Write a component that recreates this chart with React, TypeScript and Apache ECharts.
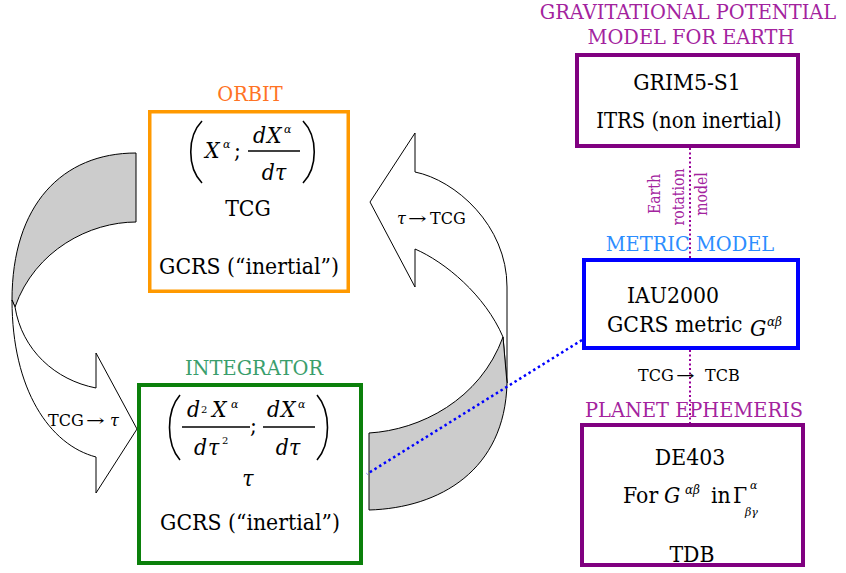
import React, { useEffect, useRef } from "react";
import * as echarts from "echarts";

// ---- text content of the diagram ----
const boxTitles = ["ORBIT", "INTEGRATOR", "GRAVITATIONAL POTENTIAL", "MODEL FOR EARTH", "METRIC MODEL", "PLANET EPHEMERIS"];
const orbitLines = ["TCG", "GCRS (“inertial”)"];
const integratorLines = ["τ", "GCRS (“inertial”)"];
const gravityLines = ["GRIM5-S1", "ITRS (non inertial)"];
const metricLines = ["IAU2000", "GCRS metric"];
const ephemerisLines = ["DE403", "For", "in", "TDB"];
const timeScales = ["TCG", "TCB", "τ"];
const rotationLabel = ["Earth", "rotation", "model"];
const mathSymbols = { alpha: "α", alphaBeta: "αβ", betaGamma: "βγ", Gamma: "Γ", tau: "τ", arrow: "→", two: "2" };

// ---- curved arrow outlines (SVG path data) ----
const LEFT_BACK = "M136 153 L136 222 C90 222 35 250 15 307 L12 300 C12 205 62 153 136 153 Z";
const LEFT_FRONT = "M12 300 C12 390 50 445 96 457 L96 493 L137 429 L96 353 L96 388 C55 380 22 350 15 307 Z";
const RIGHT_FRONT = "M415 172 C455 180 507 225 507 287 L507 383 L503 337 C485 295 445 262 415 249 L415 287 L370 202 L415 133 Z";
const RIGHT_BACK = "M369 433 C420 430 480 400 503 337 L507 383 C505 470 440 508 369 510 Z";

echarts.graphic.registerShape("leftBack", echarts.graphic.extendPath(LEFT_BACK, {}));
echarts.graphic.registerShape("leftFront", echarts.graphic.extendPath(LEFT_FRONT, {}));
echarts.graphic.registerShape("rightFront", echarts.graphic.extendPath(RIGHT_FRONT, {}));
echarts.graphic.registerShape("rightBack", echarts.graphic.extendPath(RIGHT_BACK, {}));

const FAMILY = "DejaVu Serif, DejaVu Sans";
const MAIN = 22; // body text size
const MAIN_SX = 0.93; // horizontal squeeze to mimic Times widths
const TITLE = 20;
const TITLE_SX = 0.97;
const SMALL = 16;

type TOpts = { italic?: boolean; align?: string; color?: string; rotation?: number; sx?: number };

// baseline-based text placement
function t(text: string, x: number, baseline: number, size: number, o: TOpts = {}) {
  return {
    type: "text",
    x,
    y: o.rotation ? baseline : baseline - 0.346 * size,
    rotation: o.rotation || 0,
    scaleX: o.sx || 1,
    silent: true,
    style: {
      text,
      x: 0,
      y: 0,
      fill: o.color || "#000",
      fontSize: size,
      fontFamily: FAMILY,
      fontStyle: o.italic ? "italic" : "normal",
      fontWeight: "normal",
      align: o.align || "left",
      verticalAlign: "middle",
      legacy: false,
    },
  };
}
const m = (text: string, x: number, b: number, o: TOpts = {}) => t(text, x, b, MAIN, { sx: MAIN_SX, ...o });
const sup = (text: string, x: number, b: number, size = 11) => t(text, x, b, size, { italic: true });
const ttl = (text: string, x: number, b: number, color: string) =>
  t(text, x, b, TITLE, { align: "center", color, sx: TITLE_SX });
const arrowGlyph = (x: number, b: number) => t(mathSymbols.arrow, x, b, SMALL, { sx: 1.4 });

function box(x: number, y: number, w: number, h: number, color: string, lw: number) {
  return {
    type: "rect",
    shape: { x, y, width: w, height: h },
    style: { fill: "#ffffff", stroke: color, lineWidth: lw },
  };
}

function line(x1: number, y1: number, x2: number, y2: number, color: string, lw: number, dash?: number[]) {
  return {
    type: "line",
    shape: { x1, y1, x2, y2 },
    style: { stroke: color, lineWidth: lw, lineDash: dash || null, fill: "none" },
  };
}

function paren(x: number, top: number, bottom: number, apex: number) {
  const h = bottom - top;
  return {
    type: "bezierCurve",
    shape: { x1: x, y1: top, x2: x, y2: bottom, cpx1: apex, cpy1: top + h * 0.25, cpx2: apex, cpy2: top + h * 0.75 },
    style: { stroke: "#000", lineWidth: 1.6, fill: "none" },
  };
}

export default function App() {
  const ref = useRef<HTMLDivElement>(null);
  useEffect(() => {
    document.body.style.margin = "0";
    if (!ref.current) return;
    const chart = echarts.init(ref.current, null, { renderer: "svg" });
    const S = mathSymbols;
    const ORANGE = "#FF9900", ORANGE_T = "#FF7324";
    const GREEN = "#0B800B", GREEN_T = "#3A9E6C";
    const PURPLE = "#800080", PURPLE_T = "#A3239E";
    const BLUE = "#0000FF", BLUE_T = "#2B8DFF";
    const els: any[] = [];

    // curved arrows
    els.push({ type: "leftBack", x: 0, y: 0, style: { fill: "#cccccc", stroke: "#000", lineWidth: 1 } });
    els.push({ type: "leftFront", x: 0, y: 0, style: { fill: "#ffffff", stroke: "#000", lineWidth: 1 } });
    els.push({ type: "rightFront", x: 0, y: 0, style: { fill: "#ffffff", stroke: "#000", lineWidth: 1 } });
    els.push({ type: "rightBack", x: 0, y: 0, style: { fill: "#cccccc", stroke: "#000", lineWidth: 1 } });

    // arrow labels
    els.push(t(S.tau, 397, 224, SMALL, { italic: true }));
    els.push(arrowGlyph(408, 224));
    els.push(t(timeScales[0], 430, 224, SMALL));
    els.push(t(timeScales[0], 48, 426, SMALL));
    els.push(arrowGlyph(86, 426));
    els.push(t(S.tau, 110, 426, SMALL, { italic: true }));

    // dotted connectors
    els.push(line(690, 148, 690, 258, "#990099", 2, [2, 2.5]));
    els.push(line(690, 350, 690, 423, "#990099", 2, [2, 2.5]));
    els.push(line(582, 340, 367, 474, BLUE, 2.5, [2.5, 3]));

    // ORBIT
    els.push(box(149.75, 111.75, 198.5, 179.5, ORANGE, 3.5));
    els.push(ttl(boxTitles[0], 250, 101, ORANGE_T));
    els.push(paren(202, 121, 183, 187));
    els.push(paren(303, 121, 183, 318));
    els.push(m("X", 205, 158, { italic: true }));
    els.push(sup(S.alpha, 223, 148));
    els.push(m(";", 234, 158));
    els.push(m("d", 253, 143, { italic: true }));
    els.push(m("X", 267, 143, { italic: true }));
    els.push(sup(S.alpha, 284, 133));
    els.push(line(248, 151, 300, 151, "#000", 1.3));
    els.push(m("d" + S.tau, 274, 180, { italic: true, align: "center" }));
    els.push(m(orbitLines[0], 248, 216, { align: "center" }));
    els.push(m(orbitLines[1], 249, 274, { align: "center" }));

    // INTEGRATOR
    els.push(box(139, 385, 222, 178, GREEN, 4));
    els.push(ttl(boxTitles[1], 254, 375, GREEN_T));
    els.push(paren(180, 395, 460, 166));
    els.push(paren(317, 395, 460, 331));
    els.push(m("d", 187, 417, { italic: true }));
    els.push(t(S.two, 201, 413, 10));
    els.push(m("X", 212, 417, { italic: true }));
    els.push(sup(S.alpha, 231, 408));
    els.push(line(182, 427, 250, 427, "#000", 1.3));
    els.push(m("d", 194, 455, { italic: true }));
    els.push(m(S.tau, 208, 455, { italic: true }));
    els.push(t(S.two, 222, 444, 10));
    els.push(m(";", 250, 433));
    els.push(m("d", 267, 417, { italic: true }));
    els.push(m("X", 281, 417, { italic: true }));
    els.push(sup(S.alpha, 298, 408));
    els.push(line(263, 427, 315, 427, "#000", 1.3));
    els.push(m("d" + S.tau, 288, 455, { italic: true, align: "center" }));
    els.push(m(integratorLines[0], 248, 486, { italic: true, align: "center" }));
    els.push(m(integratorLines[1], 250, 530, { align: "center" }));

    // GRAVITATIONAL POTENTIAL
    els.push(box(577, 55, 221, 91, PURPLE, 4));
    els.push(ttl(boxTitles[2], 688, 19, PURPLE_T));
    els.push(ttl(boxTitles[3], 691, 44, PURPLE_T));
    els.push(m(gravityLines[0], 687, 90, { align: "center" }));
    els.push(m(gravityLines[1], 689, 128, { align: "center", sx: 0.89 }));

    // Earth rotation model (vertical)
    els.push(t(rotationLabel[0], 655, 194, SMALL, { align: "center", color: PURPLE_T, rotation: Math.PI / 2, sx: 0.88 }));
    els.push(t(rotationLabel[1], 679, 197, SMALL, { align: "center", color: PURPLE_T, rotation: Math.PI / 2, sx: 0.88 }));
    els.push(t(rotationLabel[2], 702, 194, SMALL, { align: "center", color: PURPLE_T, rotation: Math.PI / 2, sx: 0.88 }));

    // METRIC MODEL
    els.push(box(584, 260, 214, 88, BLUE, 4));
    els.push(ttl(boxTitles[4], 690, 251, BLUE_T));
    els.push(m(metricLines[0], 673, 303, { align: "center" }));
    els.push(m(metricLines[1], 607, 332));
    els.push(m("G", 750, 336, { italic: true }));
    els.push(sup(S.alphaBeta, 767, 326, 12));

    // TCG -> TCB
    els.push(t(timeScales[0], 638, 381, SMALL));
    els.push(arrowGlyph(676, 381));
    els.push(t(timeScales[1], 705, 381, SMALL));

    // PLANET EPHEMERIS
    els.push(box(582, 425, 221, 140, PURPLE, 4));
    els.push(ttl(boxTitles[5], 694, 417, PURPLE_T));
    els.push(m(ephemerisLines[0], 690, 465, { align: "center" }));
    els.push(m(ephemerisLines[1], 623, 503));
    els.push(m("G", 664, 503, { italic: true }));
    els.push(sup(S.alphaBeta, 685, 494, 12));
    els.push(m(ephemerisLines[2], 711, 503));
    els.push(m(S.Gamma, 733, 503));
    els.push(sup(S.alpha, 750, 489));
    els.push(sup(S.betaGamma, 745, 516));
    els.push(m(ephemerisLines[3], 692, 562, { align: "center" }));

    chart.setOption({
      animation: false,
      backgroundColor: "#ffffff",
      graphic: { elements: els },
    });
    return () => chart.dispose();
  }, []);
  return <div ref={ref} style={{ width: 846, height: 573 }} />;
}
